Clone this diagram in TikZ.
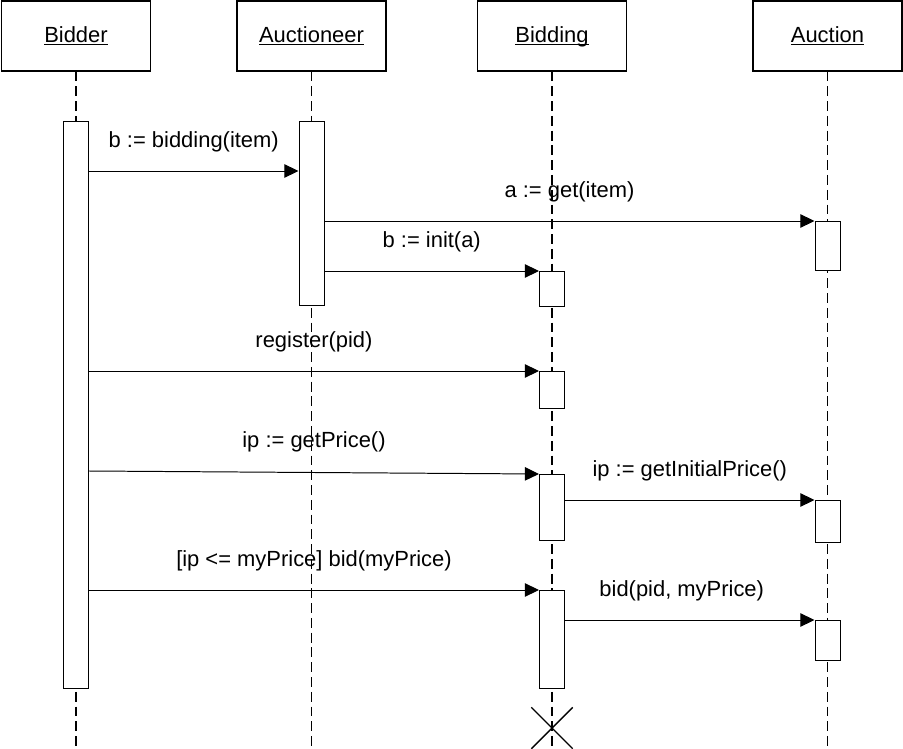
\documentclass[tikz,border=0pt]{standalone}
\usepackage{fontspec}
\setmainfont{Liberation Sans}
\usetikzlibrary{arrows.meta,shapes.misc}
\newcommand{\objname}[1]{\underline{\smash{#1}\vphantom{B}}}

\begin{document}
\begin{tikzpicture}[x=0.025cm,y=-0.025cm,
  every node/.style={font=\fontsize{15.6}{18}\selectfont},
  objbox/.style={draw,fill=white,minimum width=3.725cm,minimum height=1.75cm,inner sep=0pt,line width=0.9pt},
  lifeln/.style={line width=0.8pt,dash pattern=on 7pt off 3.5pt},
  actbar/.style={draw,fill=white,minimum width=0.625cm,anchor=north,inner sep=0pt,line width=0.7pt},
  msgarr/.style={line width=0.7pt,-{Triangle[length=10pt,width=9.5pt]}},
  msglbl/.style={above=9.5pt,midway}]
  \useasboundingbox (0,0) rectangle (903,749);
  % objects
  \node[objbox] (bidder) at (76,36) {\objname{Bidder}};
  \node[objbox] (auctioneer) at (311.5,36) {\objname{Auctioneer}};
  \node[objbox] (bidding) at (552,36) {\objname{Bidding}};
  \node[objbox] (auction) at (827.5,36) {\objname{Auction}};
  % lifelines
  \foreach \o in {bidder,auctioneer,bidding,auction} {
    \coordinate (\o-end) at (\o.south |- 0,749);
    \draw[lifeln] (\o.south) -- (\o-end);
  }
  % activations
  \node[actbar,minimum height=14.175cm] (bidderAct) at (76,121) {};
  \node[actbar,minimum height=4.6cm] (auctioneerAct) at (311.5,121) {};
  \node[actbar,minimum height=1.225cm] (auctionAct1) at (827.5,221) {};
  \node[actbar,minimum height=0.875cm] (biddingAct1) at (552,271) {};
  \node[actbar,minimum height=0.925cm] (biddingAct2) at (552,371) {};
  \node[actbar,minimum height=1.65cm] (biddingAct3) at (552,474) {};
  \node[actbar,minimum height=1.05cm] (auctionAct2) at (827.5,500) {};
  \node[actbar,minimum height=2.45cm] (biddingAct4) at (552,590) {};
  \node[actbar,minimum height=1cm] (auctionAct3) at (827.5,620) {};
  \node[cross out,draw,line width=1pt,minimum size=1cm,inner sep=0pt] (biddingEnd) at (552,728) {};
  % messages
  \coordinate (m1) at (0,171); \coordinate (m5) at (0,471);
  \draw[msgarr] (bidderAct.east |- m1) -- node[msglbl] {b := bidding(item)} (auctioneerAct.west |- m1);
  \draw[msgarr] (auctioneerAct.east |- auctionAct1.north) -- node[msglbl] {a := get(item)} (auctionAct1.north west);
  \draw[msgarr] (auctioneerAct.east |- biddingAct1.north) -- node[msglbl] {b := init(a)} (biddingAct1.north west);
  \draw[msgarr] (bidderAct.east |- biddingAct2.north) -- node[msglbl] {register(pid)} (biddingAct2.north west);
  \draw[msgarr] (bidderAct.east |- m5) -- node[msglbl,yshift=1.5pt] {ip := getPrice()} (biddingAct3.north west);
  \draw[msgarr] (biddingAct3.east |- auctionAct2.north) -- node[msglbl] {ip := getInitialPrice()} (auctionAct2.north west);
  \draw[msgarr] (bidderAct.east |- biddingAct4.north) -- node[msglbl] {[ip <= myPrice] bid(myPrice)} (biddingAct4.north west);
  \draw[msgarr] (biddingAct4.east |- auctionAct3.north) -- node[msglbl,xshift=-0.2cm] {bid(pid, myPrice)} (auctionAct3.north west);
\end{tikzpicture}
\end{document}
